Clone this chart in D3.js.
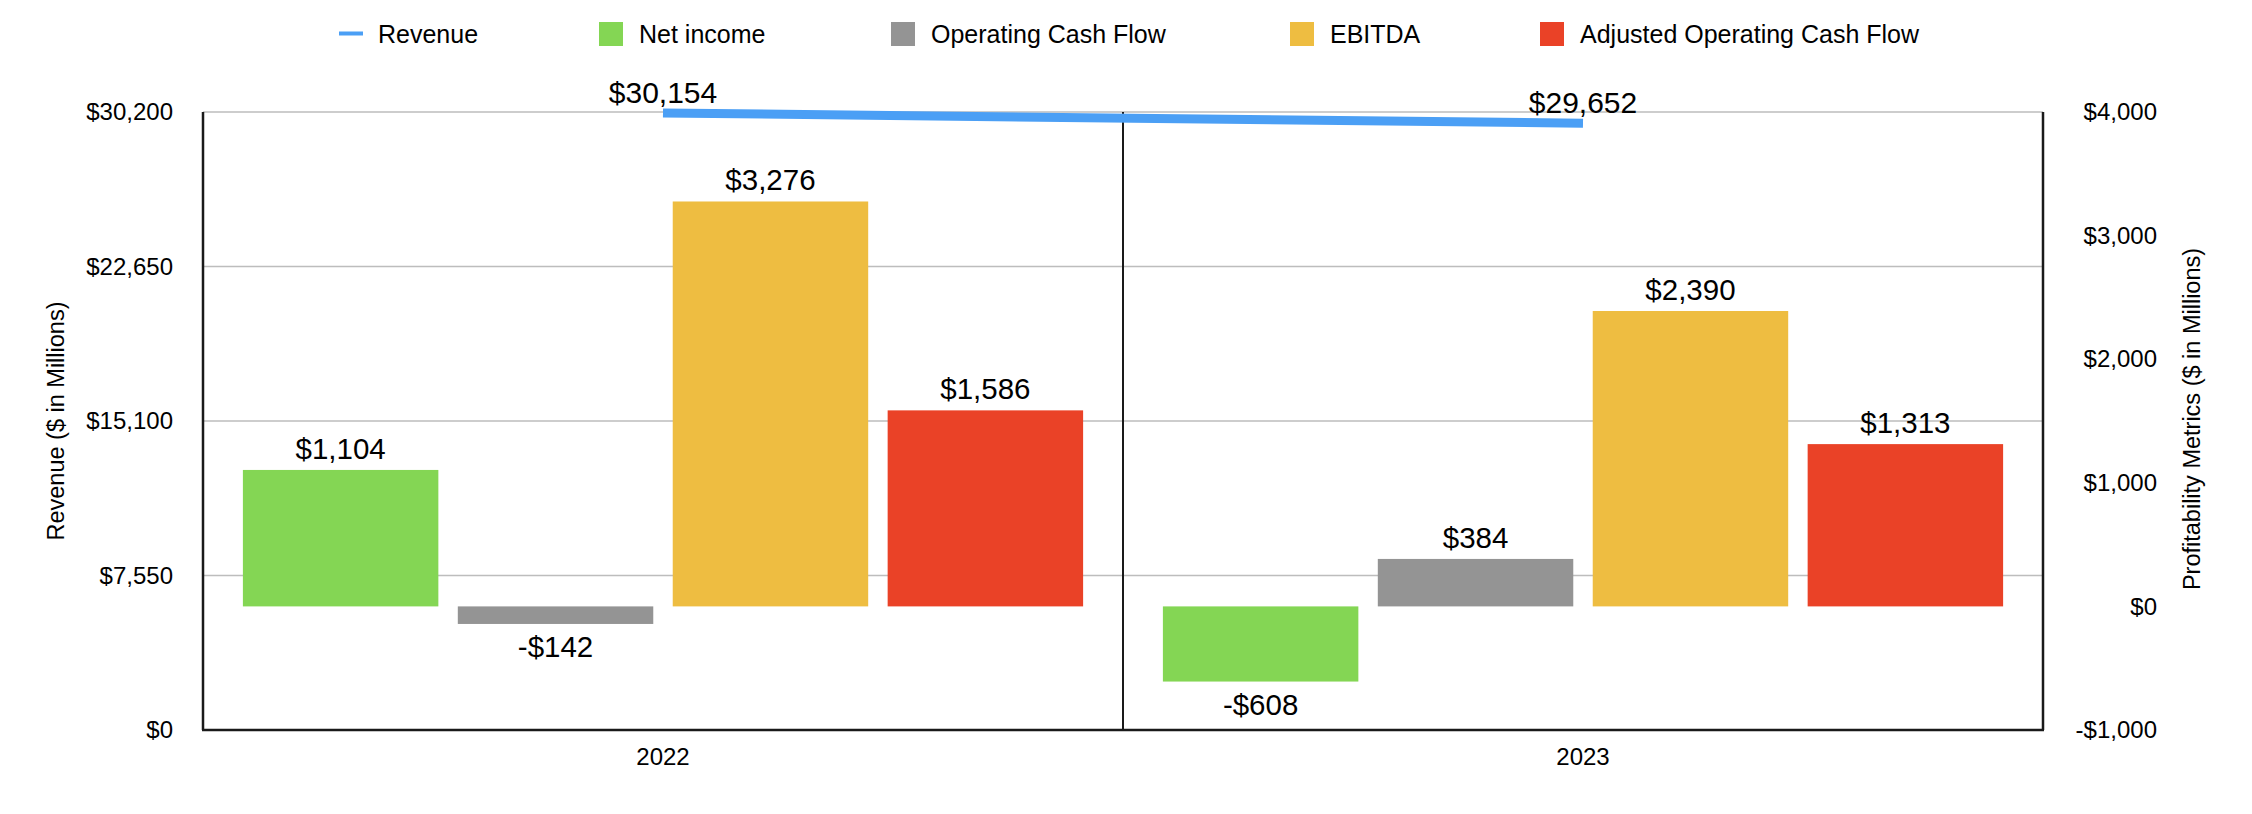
<!DOCTYPE html>
<html><head><meta charset="utf-8">
<script src="https://cdn.jsdelivr.net/npm/d3@7"></script>
<style>
body{margin:0;background:#fff}
svg text{font-family:"Liberation Sans",Arial,Helvetica,sans-serif;fill:#000}
</style>
</head><body>
<svg id="c" width="2252" height="814"></svg>
<script>
// ---- data ----
const years = ["2022", "2023"];
const revenue = [30154, 29652];
const netIncome = [1104, -608];
const operatingCashFlow = [-142, 384];
const ebitda = [3276, 2390];
const adjustedOperatingCashFlow = [1586, 1313];
const seriesNames = ["Net income", "Operating Cash Flow", "EBITDA", "Adjusted Operating Cash Flow"];
const seriesValues = [netIncome, operatingCashFlow, ebitda, adjustedOperatingCashFlow];
const seriesColors = ["#84d654", "#949494", "#eebd41", "#ea4227"];
const revenueColor = "#4b9ff5";
const leftTicks = [0, 7550, 15100, 22650, 30200];
const rightTicks = [-1000, 0, 1000, 2000, 3000, 4000];

// ---- layout ----
const L = 203, R = 2043, T = 112, B = 730;
const svg = d3.select("#c");
const money = d => (d < 0 ? "-$" : "$") + d3.format(",")(Math.abs(d));

const x0 = d3.scaleBand().domain(years).range([L, R]).padding(0);
const x1 = d3.scaleBand().domain(seriesNames).range([0, x0.bandwidth()])
  .paddingInner(0.0905).paddingOuter(0.1856);
const yL = d3.scaleLinear().domain([0, 30200]).range([B, T]);
const yR = d3.scaleLinear().domain([-1000, 4000]).range([B, T]);

// gridlines
svg.append("g").selectAll("line").data(leftTicks).join("line")
  .attr("x1", L).attr("x2", R)
  .attr("y1", d => yL(d)).attr("y2", d => yL(d))
  .attr("stroke", "#bdbdbd").attr("stroke-width", 1.5);

// bars
const rows = [];
years.forEach((y, i) => seriesNames.forEach((s, j) => rows.push({year: y, series: s, value: seriesValues[j][i], color: seriesColors[j]})));
svg.append("g").selectAll("rect").data(rows).join("rect")
  .attr("x", d => x0(d.year) + x1(d.series))
  .attr("width", x1.bandwidth())
  .attr("y", d => Math.min(yR(d.value), yR(0)))
  .attr("height", d => Math.abs(yR(d.value) - yR(0)))
  .attr("fill", d => d.color);

// frame lines
const frame = svg.append("g").attr("stroke", "#1a1a1a");
frame.append("line").attr("x1", L).attr("x2", L).attr("y1", T).attr("y2", B).attr("stroke-width", 2.5);
frame.append("line").attr("x1", R).attr("x2", R).attr("y1", T).attr("y2", B).attr("stroke-width", 2.5);
frame.append("line").attr("x1", x0(years[1])).attr("x2", x0(years[1])).attr("y1", T).attr("y2", B).attr("stroke-width", 2);
frame.append("line").attr("x1", L - 1).attr("x2", R + 1).attr("y1", B).attr("y2", B).attr("stroke-width", 2.5);

// axes
const gl = svg.append("g").attr("transform", `translate(${L},0)`)
  .call(d3.axisLeft(yL).tickValues(leftTicks).tickSize(0).tickPadding(30).tickFormat(money));
const gr = svg.append("g").attr("transform", `translate(${R},0)`)
  .call(d3.axisRight(yR).tickValues(rightTicks).tickSize(0).tickPadding(0).tickFormat(money));
gr.selectAll("text").attr("text-anchor", "end").attr("x", 114);
const gb = svg.append("g").attr("transform", `translate(0,${B})`)
  .call(d3.axisBottom(x0).tickSize(0).tickPadding(18));
[gl, gr, gb].forEach(g => {
  g.select(".domain").remove();
  g.selectAll("text").attr("font-size", 24).style("fill", "#000");
  g.attr("font-family", null).attr("font-size", null);
});

// axis titles
svg.append("text").attr("transform", `translate(56,${(T + B) / 2}) rotate(-90)`)
  .attr("text-anchor", "middle").attr("dy", "0.35em").attr("font-size", 23.5)
  .text("Revenue ($ in Millions)");
svg.append("text").attr("transform", `translate(2192,${(T + B) / 2 - 2}) rotate(-90)`)
  .attr("text-anchor", "middle").attr("dy", "0.35em").attr("font-size", 23.5)
  .text("Profitability Metrics ($ in Millions)");

// revenue line
const line = d3.line().x((d, i) => x0(years[i]) + x0.bandwidth() / 2).y(d => yL(d));
svg.append("path").datum(revenue).attr("d", line)
  .attr("fill", "none").attr("stroke", revenueColor).attr("stroke-width", 9).attr("stroke-linecap", "butt");

// bar labels
svg.append("g").selectAll("text").data(rows).join("text")
  .attr("x", d => x0(d.year) + x1(d.series) + x1.bandwidth() / 2)
  .attr("y", d => d.value >= 0 ? yR(d.value) - 11 : yR(d.value) + 33)
  .attr("text-anchor", "middle").attr("font-size", 29.5)
  .text(d => money(d.value));

// revenue labels
svg.append("g").selectAll("text").data(revenue).join("text")
  .attr("x", (d, i) => x0(years[i]) + x0.bandwidth() / 2)
  .attr("y", d => yL(d) - 10)
  .attr("text-anchor", "middle").attr("font-size", 30)
  .text(d => money(d));

// legend
const legendItems = [{name: "Revenue", color: revenueColor, type: "line"}]
  .concat(seriesNames.map((n, i) => ({name: n, color: seriesColors[i], type: "rect"})));
const legendX = [339, 599, 891, 1290, 1540];
const lg = svg.append("g");
legendItems.forEach((it, i) => {
  const g = lg.append("g").attr("transform", `translate(${legendX[i]},0)`);
  let tx;
  if (it.type === "line") {
    g.append("rect").attr("x", 0).attr("y", 31.5).attr("width", 24).attr("height", 4).attr("fill", it.color);
    tx = 39;
  } else {
    g.append("rect").attr("x", 0).attr("y", 22).attr("width", 24).attr("height", 24).attr("fill", it.color);
    tx = 40;
  }
  g.append("text").attr("x", tx).attr("y", 43.3).attr("font-size", 25).text(it.name);
});
</script>
</body></html>
